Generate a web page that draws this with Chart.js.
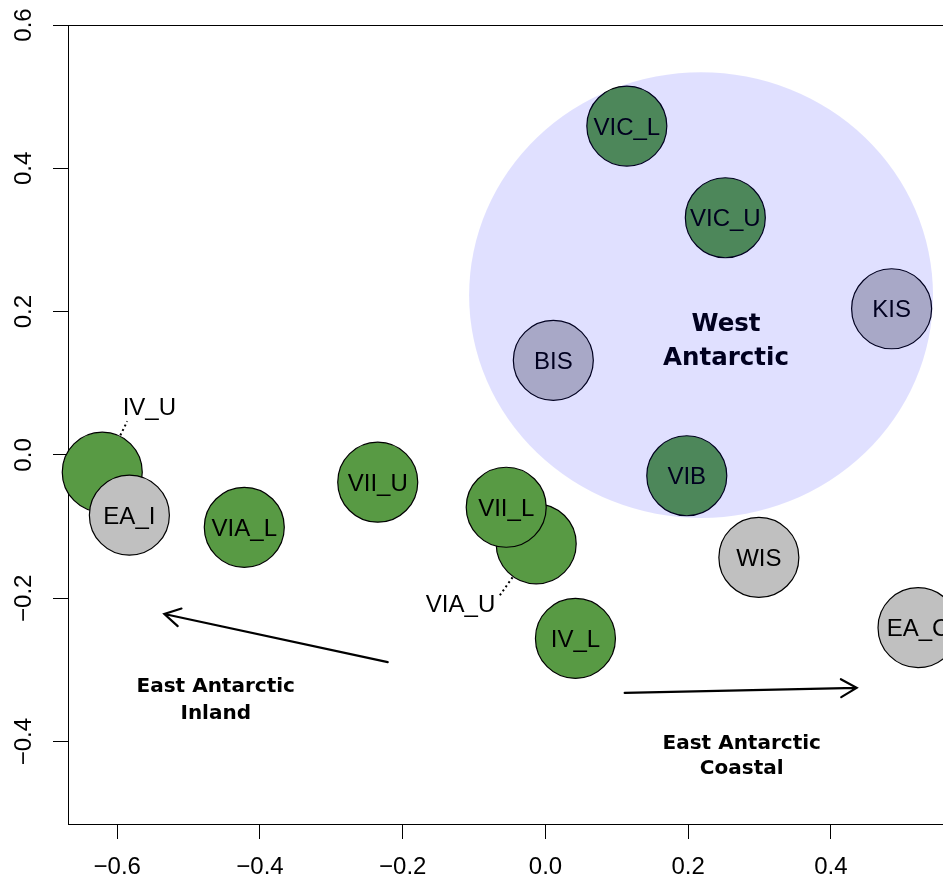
<!DOCTYPE html>
<html>
<head>
<meta charset="utf-8">
<script src="https://cdn.jsdelivr.net/npm/chart.js@4.4.1/dist/chart.umd.min.js"></script>
<style>
  html, body { margin: 0; padding: 0; background: #fff; }
</style>
</head>
<body>
<canvas id="ordination" width="943" height="884"></canvas>
<script>
// site scores on the two ordination axes (drawing order matters: later sites sit on top)
const sites    = ["IV_U", "EA_I", "VIA_L", "VII_U", "VIA_U", "VII_L", "IV_L", "BIS", "VIB", "VIC_L", "VIC_U", "KIS", "WIS", "EA_C"];
const axis1    = [-0.621, -0.583, -0.422, -0.235, -0.013, -0.055, 0.042, 0.011, 0.198, 0.114, 0.252, 0.485, 0.299, 0.522];
const axis2    = [-0.024, -0.084, -0.101, -0.038, -0.124, -0.073, -0.256, 0.132, -0.029, 0.459, 0.331, 0.204, -0.143, -0.241];
const siteType = ["core", "shelf", "core", "core", "core", "core", "core", "shelf", "core", "core", "core", "shelf", "shelf", "shelf"];

const xTicks = [-0.6, -0.4, -0.2, 0.0, 0.2, 0.4];
const yTicks = [-0.4, -0.2, 0.0, 0.2, 0.4, 0.6];

// sites labelled outside their circle, with a dotted leader
const calloutSites = ["IV_U", "VIA_U"];
const calloutX     = [-0.555, -0.119];
const calloutY     = [0.067, -0.207];
const leaderEndX   = [-0.586, -0.064];
const leaderEndY   = [0.047, -0.196];

// West Antarctic group region
const regionCenter = [0.218, 0.223];
const regionRadius = [0.325, 0.311];

// gradient arrows (data coords)
const arrowFromX = [-0.221, 0.111];
const arrowFromY = [-0.289, -0.332];
const arrowToX   = [-0.534, 0.436];
const arrowToY   = [-0.222, -0.325];

// group annotations: text lines and their centres
const noteLines = [["West", "Antarctic"], ["East Antarctic", "Inland"], ["East Antarctic", "Coastal"]];
const noteX     = [0.253, -0.462, 0.275];
const noteY     = [[0.185, 0.138], [-0.321, -0.358], [-0.400, -0.435]];

const GREEN = "rgb(88,154,68)";
const GREY = "rgb(192,192,192)";
const SANS = "'Liberation Sans', Arial, Helvetica, sans-serif";
const BOLD = "'DejaVu Sans', Verdana, sans-serif";

const fmt = (v) => (v < 0 ? "\u2212" : "") + Math.abs(v).toFixed(1);

const annotations = {
  id: "annotations",
  beforeDatasetsDraw(chart) {
    const { ctx, chartArea } = chart;
    ctx.save();
    ctx.strokeStyle = "#000";
    ctx.lineWidth = 1;
    ctx.beginPath();
    ctx.moveTo(chartArea.left, chartArea.top + 0.5);
    ctx.lineTo(chartArea.right + 5, chartArea.top + 0.5);
    ctx.stroke();
    ctx.restore();
  },
  afterDatasetsDraw(chart) {
    const { ctx, scales: { x, y } } = chart;
    const meta = chart.getDatasetMeta(0);
    ctx.save();

    // names inside circles
    ctx.fillStyle = "#000";
    ctx.font = "24px " + SANS;
    ctx.textAlign = "center";
    ctx.textBaseline = "alphabetic";
    meta.data.forEach((pt, i) => {
      if (calloutSites.includes(sites[i])) return;
      ctx.fillText(sites[i], pt.x, pt.y + 8.5);
    });

    // callout labels + dotted leaders
    calloutSites.forEach((s, k) => {
      const pt = meta.data[sites.indexOf(s)];
      const ex = x.getPixelForValue(leaderEndX[k]);
      const ey = y.getPixelForValue(leaderEndY[k]);
      const ang = Math.atan2(ey - pt.y, ex - pt.x);
      const r = pt.options.radius + 1;
      ctx.save();
      ctx.setLineDash([2, 3]);
      ctx.lineWidth = 2;
      ctx.strokeStyle = "#000";
      ctx.beginPath();
      ctx.moveTo(pt.x + r * Math.cos(ang), pt.y + r * Math.sin(ang));
      ctx.lineTo(ex, ey);
      ctx.stroke();
      ctx.restore();
      ctx.fillText(s, x.getPixelForValue(calloutX[k]), y.getPixelForValue(calloutY[k]) + 8.5);
    });

    // arrows
    ctx.strokeStyle = "#000";
    ctx.lineWidth = 2.2;
    ctx.lineCap = "round";
    arrowFromX.forEach((_, k) => {
      const x0 = x.getPixelForValue(arrowFromX[k]), y0 = y.getPixelForValue(arrowFromY[k]);
      const x1 = x.getPixelForValue(arrowToX[k]), y1 = y.getPixelForValue(arrowToY[k]);
      const a = Math.atan2(y1 - y0, x1 - x0);
      const len = 18, spread = Math.PI / 6;
      ctx.beginPath();
      ctx.moveTo(x0, y0);
      ctx.lineTo(x1, y1);
      ctx.moveTo(x1 - len * Math.cos(a - spread), y1 - len * Math.sin(a - spread));
      ctx.lineTo(x1, y1);
      ctx.lineTo(x1 - len * Math.cos(a + spread), y1 - len * Math.sin(a + spread));
      ctx.stroke();
    });

    // group notes
    noteLines.forEach((lines, k) => {
      const size = k === 0 ? 24.5 : 20;
      ctx.font = "bold " + size + "px " + BOLD;
      lines.forEach((t, j) => {
        ctx.fillText(t, x.getPixelForValue(noteX[k]), y.getPixelForValue(noteY[k][j]) + size * 0.364);
      });
    });

    // translucent West Antarctic region on top
    const cx = x.getPixelForValue(regionCenter[0]);
    const cy = y.getPixelForValue(regionCenter[1]);
    const rx = x.getPixelForValue(regionCenter[0] + regionRadius[0]) - cx;
    const ry = cy - y.getPixelForValue(regionCenter[1] + regionRadius[1]);
    ctx.fillStyle = "rgba(0,0,255,0.12)";
    ctx.beginPath();
    ctx.ellipse(cx, cy, rx, ry, 0, 0, Math.PI * 2);
    ctx.fill();

    ctx.restore();
  }
};

const axisGrid = { drawOnChartArea: false, drawTicks: true, tickLength: 15, color: "#000", lineWidth: 1 };
const axisBorder = { display: true, color: "#000", width: 1 };
const noPad = (s) => { s.paddingTop = 0; s.paddingBottom = 0; s.paddingLeft = 0; s.paddingRight = 0; };

new Chart(document.getElementById("ordination").getContext("2d"), {
  type: "scatter",
  data: {
    datasets: [{
      data: sites.map((s, i) => ({ x: axis1[i], y: axis2[i] })),
      pointRadius: 40,
      pointHoverRadius: 40,
      pointBackgroundColor: siteType.map((t) => (t === "core" ? GREEN : GREY)),
      pointBorderColor: "#000",
      pointBorderWidth: 1.2,
      clip: false
    }]
  },
  options: {
    responsive: false,
    animation: false,
    events: [],
    layout: { autoPadding: false, padding: { top: 25, right: 0, bottom: 0, left: 0 } },
    plugins: { legend: { display: false }, tooltip: { enabled: false } },
    scales: {
      x: {
        type: "linear",
        min: -0.669,
        max: 0.557,
        afterBuildTicks: (s) => { s.ticks = xTicks.map((v) => ({ value: v })); },
        afterFit: (s) => { s.height = 60; noPad(s); },
        grid: axisGrid,
        border: axisBorder,
        ticks: { color: "#000", padding: 14, font: { family: SANS, size: 24 }, callback: fmt }
      },
      y: {
        type: "linear",
        min: -0.515,
        max: 0.6,
        afterBuildTicks: (s) => { s.ticks = yTicks.map((v) => ({ value: v })); },
        afterFit: (s) => { s.width = 68; noPad(s); },
        grid: axisGrid,
        border: axisBorder,
        ticks: {
          color: "#000", padding: 5, minRotation: 90, maxRotation: 90, crossAlign: "center",
          font: { family: SANS, size: 24 }, callback: fmt
        }
      }
    }
  },
  plugins: [annotations]
});
</script>
</body>
</html>
